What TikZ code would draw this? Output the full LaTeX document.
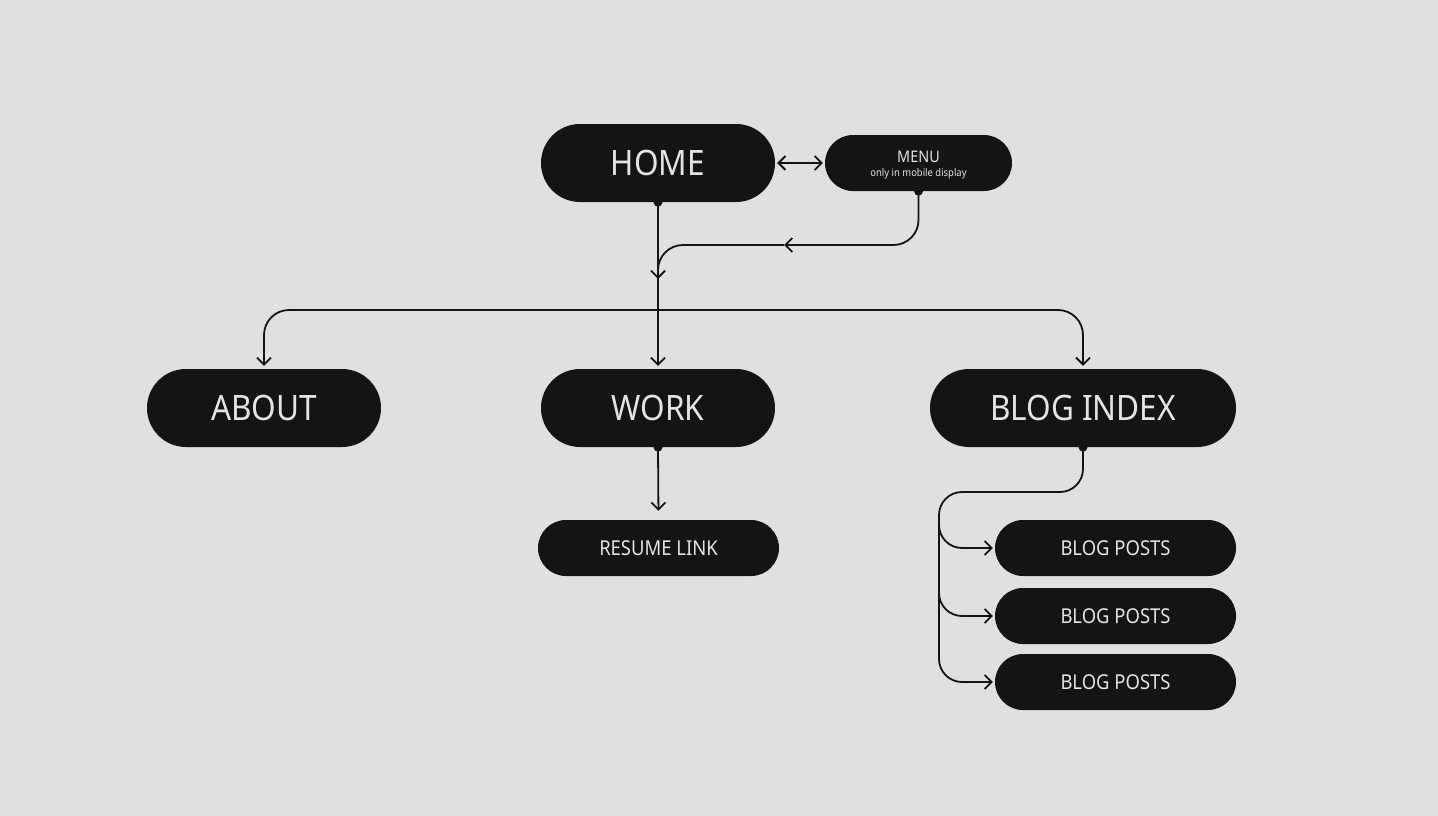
\documentclass[tikz,border=0pt]{standalone}
\usepackage{fontspec}
\setmainfont{Noto Sans}[FakeStretch=0.9]
\usetikzlibrary{arrows.meta}
\definecolor{bg}{HTML}{E0E0E0}
\definecolor{pill}{HTML}{141414}
\definecolor{txt}{HTML}{E4E4E4}
\begin{document}
\begin{tikzpicture}[x=1pt,y=-1pt,
  pillbig/.style={fill=pill, text=txt, minimum width=#1, minimum height=78pt, rounded corners=39pt, inner sep=0pt, font=\fontsize{35}{40}\selectfont},
  pillsmall/.style={fill=pill, text=txt, minimum width=241pt, minimum height=56pt, rounded corners=28pt, inner sep=0pt, font=\fontsize{20.5}{24}\selectfont},
  conn/.style={draw=pill, line width=1.8pt},
  tip/.style={-{Straight Barb[length=7pt,width=14pt]}},
  dot/.style={fill=pill}
]
\useasboundingbox (0,0) rectangle (1438,816);
\fill[bg] (0,0) rectangle (1438,816);

% nodes
\node[pillbig=234pt] (home) at (658,163) {HOME};
\node[fill=pill, minimum width=187pt, minimum height=56pt, rounded corners=28pt, inner sep=0pt] (menu) at (918.5,163) {};
\node[text=txt, anchor=base, inner sep=0pt, font=\fontsize{16}{18}\selectfont] (menutitle) at (918.5,162.5) {MENU};
\node[text=txt, anchor=base, inner sep=0pt, font=\fontsize{10.5}{12}\selectfont] (menusub) at (918.5,176) {only in mobile display};

\node[pillbig=234pt] (about) at (264,408) {ABOUT};
\node[pillbig=234pt] (work) at (658,408) {WORK};
\node[pillbig=306pt] (blog) at (1083,408) {BLOG INDEX};

\node[pillsmall] (resume) at (658.5,548) {RESUME LINK};
\node[pillsmall] (post1) at (1115.5,548) {BLOG POSTS};
\node[pillsmall] (post2) at (1115.5,616) {BLOG POSTS};
\node[pillsmall] (post3) at (1115.5,682) {BLOG POSTS};

% coordinates
\coordinate (join) at (658,279);
\coordinate (mleft) at (784,245);
\coordinate (split) at (658,310);
\coordinate (bturn) at (939,492);
\coordinate (b1) at (939,522);
\coordinate (b2) at (939,590);

% connectors
\draw[conn, {Straight Barb[length=7pt,width=14pt]}-{Straight Barb[length=7pt,width=14pt]}, shorten <=2pt, shorten >=2pt] (home.east) -- (menu.west);

\fill[dot] (home.south) circle (4.5pt);
\draw[conn, tip, shorten >=3pt] (home.south) -- (work.north);

\fill[dot] (menu.south) circle (4.5pt);
\draw[conn, rounded corners=25pt, tip] (menu.south) |- (mleft);
\draw[conn, rounded corners=25pt, tip] (mleft) -| (join);

\draw[conn, rounded corners=25pt, tip, shorten >=3pt] (split) -| (about.north);
\draw[conn, rounded corners=25pt, tip, shorten >=3pt] (split) -| (blog.north);

\fill[dot] (work.south) circle (4.5pt);
\draw[conn, tip, shorten >=9pt] (work.south) -- (resume.north);

\fill[dot] (blog.south) circle (4.5pt);
\draw[conn, rounded corners=23pt, tip, shorten >=2pt] (blog.south) |- (bturn) |- (post3.west);
\draw[conn, rounded corners=23pt, tip, shorten >=2pt] (b1) |- (post1.west);
\draw[conn, rounded corners=23pt, tip, shorten >=2pt] (b2) |- (post2.west);
\end{tikzpicture}
\end{document}
